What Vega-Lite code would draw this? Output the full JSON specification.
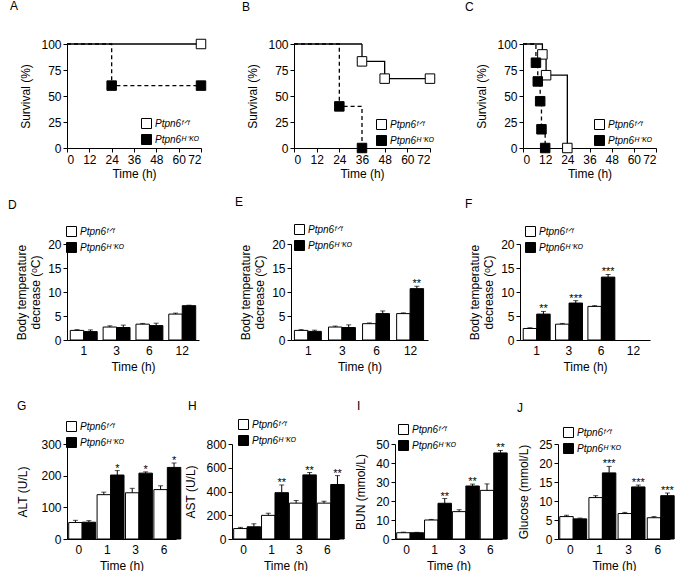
{
  "$schema": "https://vega.github.io/schema/vega-lite/v6.json",
  "background": "white",
  "padding": {"left": 8, "top": 0, "right": 2, "bottom": 0},
  "config": {
    "view": {"stroke": null},
    "font": "Liberation Sans",
    "axis": {"grid": false, "domainColor": "black", "tickColor": "black", "labelColor": "black", "titleColor": "black", "labelFont": "Liberation Sans", "titleFont": "Liberation Sans", "labelFontSize": 12, "titleFontSize": 12, "titleFontWeight": "normal", "tickSize": 4, "labelPadding": 2, "titlePadding": 5, "domainWidth": 1, "tickWidth": 1},
    "axisY": {"titlePadding": 8},
    "title": {"font": "Liberation Sans", "fontSize": 12, "fontWeight": "normal", "color": "black", "anchor": "start", "frame": "group"},
    "legend": {"title": null, "symbolType": "square", "symbolSize": 100, "symbolStrokeColor": "black", "symbolStrokeWidth": 1, "labelFont": "Liberation Sans", "labelFontSize": 10, "labelFontStyle": "italic", "labelColor": "black", "labelOffset": 3, "rowPadding": 1, "padding": 0}
  },
  "vconcat": [
    {
      "hconcat": [
        {
          "width": 134, "height": 104,
          "title": {"text": "A", "dx": -57, "offset": 24},
          "layer": [
            {"data": {"name": "A_l"}, "mark": {"type": "line", "interpolate": "step-after", "color": "black", "strokeWidth": 1.3},
             "encoding": {
               "x": {"field": "t", "type": "quantitative", "scale": {"domain": [0, 72], "nice": false}, "axis": {"values": [0, 12, 24, 36, 48, 60, 72], "title": "Time (h)", "titlePadding": 3}},
               "y": {"field": "s", "type": "quantitative", "scale": {"domain": [0, 100], "nice": false}, "axis": {"values": [0, 25, 50, 75, 100], "title": "Survival (%)"}},
               "strokeDash": {"field": "d", "type": "nominal", "scale": {"domain": ["solid", "dash"], "range": [[1, 0], [4, 3]]}, "legend": null}}},
            {"data": {"name": "A_p"}, "mark": {"type": "point", "shape": "square", "filled": true, "stroke": "black", "strokeWidth": 1, "size": 90, "opacity": 1},
             "encoding": {
               "x": {"field": "t", "type": "quantitative", "scale": {"domain": [0, 72], "nice": false}, "axis": {"values": [0, 12, 24, 36, 48, 60, 72], "title": "Time (h)", "titlePadding": 3}},
               "y": {"field": "s", "type": "quantitative", "scale": {"domain": [0, 100], "nice": false}, "axis": {"values": [0, 25, 50, 75, 100], "title": "Survival (%)"}},
               "fill": {"field": "g", "type": "nominal", "scale": {"domain": ["Ptpn6ᶠᐟᶠ", "Ptpn6ᴴ⁻ᴷᴼ"], "range": ["white", "black"]}, "legend": {"orient": "none", "legendX": 74, "legendY": 74}}}}
          ]
        },
        {
          "width": 136, "height": 104,
          "title": {"text": "B", "dx": -52, "offset": 24},
          "layer": [
            {"data": {"name": "B_l"}, "mark": {"type": "line", "interpolate": "step-after", "color": "black", "strokeWidth": 1.3},
             "encoding": {
               "x": {"field": "t", "type": "quantitative", "scale": {"domain": [0, 72], "nice": false}, "axis": {"values": [0, 12, 24, 36, 48, 60, 72], "title": "Time (h)", "titlePadding": 3}},
               "y": {"field": "s", "type": "quantitative", "scale": {"domain": [0, 100], "nice": false}, "axis": {"values": [0, 25, 50, 75, 100], "title": "Survival (%)"}},
               "strokeDash": {"field": "d", "type": "nominal", "scale": {"domain": ["solid", "dash"], "range": [[1, 0], [4, 3]]}, "legend": null}}},
            {"data": {"name": "B_p"}, "mark": {"type": "point", "shape": "square", "filled": true, "stroke": "black", "strokeWidth": 1, "size": 90, "opacity": 1},
             "encoding": {
               "x": {"field": "t", "type": "quantitative", "scale": {"domain": [0, 72], "nice": false}, "axis": {"values": [0, 12, 24, 36, 48, 60, 72], "title": "Time (h)", "titlePadding": 3}},
               "y": {"field": "s", "type": "quantitative", "scale": {"domain": [0, 100], "nice": false}, "axis": {"values": [0, 25, 50, 75, 100], "title": "Survival (%)"}},
               "fill": {"field": "g", "type": "nominal", "scale": {"domain": ["Ptpn6ᶠᐟᶠ", "Ptpn6ᴴ⁻ᴷᴼ"], "range": ["white", "black"]}, "legend": {"orient": "none", "legendX": 82, "legendY": 75}}}}
          ]
        },
        {
          "width": 133, "height": 104,
          "title": {"text": "C", "dx": -58, "offset": 24},
          "layer": [
            {"data": {"name": "C_l"}, "mark": {"type": "line", "interpolate": "step-after", "color": "black", "strokeWidth": 1.3},
             "encoding": {
               "x": {"field": "t", "type": "quantitative", "scale": {"domain": [0, 72], "nice": false}, "axis": {"values": [0, 12, 24, 36, 48, 60, 72], "title": "Time (h)", "titlePadding": 3}},
               "y": {"field": "s", "type": "quantitative", "scale": {"domain": [0, 100], "nice": false}, "axis": {"values": [0, 25, 50, 75, 100], "title": "Survival (%)"}},
               "strokeDash": {"field": "d", "type": "nominal", "scale": {"domain": ["solid", "dash"], "range": [[1, 0], [4, 3]]}, "legend": null}}},
            {"data": {"name": "C_p"}, "mark": {"type": "point", "shape": "square", "filled": true, "stroke": "black", "strokeWidth": 1, "size": 90, "opacity": 1},
             "encoding": {
               "x": {"field": "t", "type": "quantitative", "scale": {"domain": [0, 72], "nice": false}, "axis": {"values": [0, 12, 24, 36, 48, 60, 72], "title": "Time (h)", "titlePadding": 3}},
               "y": {"field": "s", "type": "quantitative", "scale": {"domain": [0, 100], "nice": false}, "axis": {"values": [0, 25, 50, 75, 100], "title": "Survival (%)"}},
               "fill": {"field": "g", "type": "nominal", "scale": {"domain": ["Ptpn6ᶠᐟᶠ", "Ptpn6ᴴ⁻ᴷᴼ"], "range": ["white", "black"]}, "legend": {"orient": "none", "legendX": 71, "legendY": 75}}}}
          ]
        }
      ],
      "spacing": 93,
      "bounds": "flush",
      "resolve": {"scale": {"fill": "independent", "strokeDash": "independent"}, "legend": {"fill": "independent", "strokeDash": "independent"}}
    },
    {
      "hconcat": [
        {
          "width": 132, "height": 96,
          "title": {"text": "D", "dx": -59, "offset": 14},
          "data": {"name": "D"},
          "encoding": {
            "x": {"field": "time", "type": "nominal", "sort": null, "scale": {"domain": ["1", "3", "6", "12"], "paddingInner": 0.18, "paddingOuter": 0.1}, "axis": {"title": "Time (h)", "labelAngle": 0, "ticks": false, "labelPadding": 5}},
            "xOffset": {"field": "g", "type": "nominal", "scale": {"domain": ["Ptpn6ᶠᐟᶠ", "Ptpn6ᴴ⁻ᴷᴼ"], "paddingInner": 0, "paddingOuter": 0}}
          },
          "layer": [
            {"mark": {"type": "bar", "stroke": "black", "strokeWidth": 1},
             "encoding": {"y": {"field": "v", "type": "quantitative", "scale": {"domain": [0, 20], "nice": false}, "axis": {"values": [0, 5, 10, 15, 20], "title": ["Body temperature", "decrease (ᵒC)"], "titlePadding": 5}},
               "fill": {"field": "g", "type": "nominal", "scale": {"domain": ["Ptpn6ᶠᐟᶠ", "Ptpn6ᴴ⁻ᴷᴼ"], "range": ["white", "black"]}, "legend": {"orient": "none", "legendX": -1, "legendY": -18}}}},
            {"mark": {"type": "rule", "color": "black", "strokeWidth": 1},
             "encoding": {"y": {"field": "v", "type": "quantitative", "scale": {"domain": [0, 20], "nice": false}, "axis": {"values": [0, 5, 10, 15, 20], "title": ["Body temperature", "decrease (ᵒC)"], "titlePadding": 5}}, "y2": {"field": "hi"}}},
            {"mark": {"type": "tick", "color": "black", "thickness": 1, "size": 5},
             "encoding": {"y": {"field": "hi", "type": "quantitative", "scale": {"domain": [0, 20], "nice": false}, "axis": {"values": [0, 5, 10, 15, 20], "title": ["Body temperature", "decrease (ᵒC)"], "titlePadding": 5}}}},
            {"mark": {"type": "text", "baseline": "alphabetic", "dy": 1, "fontSize": 11, "fill": "black"},
             "encoding": {"y": {"field": "hi", "type": "quantitative", "scale": {"domain": [0, 20], "nice": false}, "axis": {"values": [0, 5, 10, 15, 20], "title": ["Body temperature", "decrease (ᵒC)"], "titlePadding": 5}}, "text": {"field": "star"}}}
          ]
        },
        {
          "width": 137, "height": 96,
          "title": {"text": "E", "dx": -56, "offset": 15},
          "data": {"name": "E"},
          "encoding": {
            "x": {"field": "time", "type": "nominal", "sort": null, "scale": {"domain": ["1", "3", "6", "12"], "paddingInner": 0.18, "paddingOuter": 0.1}, "axis": {"title": "Time (h)", "labelAngle": 0, "ticks": false, "labelPadding": 5}},
            "xOffset": {"field": "g", "type": "nominal", "scale": {"domain": ["Ptpn6ᶠᐟᶠ", "Ptpn6ᴴ⁻ᴷᴼ"], "paddingInner": 0, "paddingOuter": 0}}
          },
          "layer": [
            {"mark": {"type": "bar", "stroke": "black", "strokeWidth": 1},
             "encoding": {"y": {"field": "v", "type": "quantitative", "scale": {"domain": [0, 20], "nice": false}, "axis": {"values": [0, 5, 10, 15, 20], "title": ["Body temperature", "decrease (ᵒC)"], "titlePadding": 5}},
               "fill": {"field": "g", "type": "nominal", "scale": {"domain": ["Ptpn6ᶠᐟᶠ", "Ptpn6ᴴ⁻ᴷᴼ"], "range": ["white", "black"]}, "legend": {"orient": "none", "legendX": 3, "legendY": -20}}}},
            {"mark": {"type": "rule", "color": "black", "strokeWidth": 1},
             "encoding": {"y": {"field": "v", "type": "quantitative", "scale": {"domain": [0, 20], "nice": false}, "axis": {"values": [0, 5, 10, 15, 20], "title": ["Body temperature", "decrease (ᵒC)"], "titlePadding": 5}}, "y2": {"field": "hi"}}},
            {"mark": {"type": "tick", "color": "black", "thickness": 1, "size": 5},
             "encoding": {"y": {"field": "hi", "type": "quantitative", "scale": {"domain": [0, 20], "nice": false}, "axis": {"values": [0, 5, 10, 15, 20], "title": ["Body temperature", "decrease (ᵒC)"], "titlePadding": 5}}}},
            {"mark": {"type": "text", "baseline": "alphabetic", "dy": 1, "fontSize": 11, "fill": "black"},
             "encoding": {"y": {"field": "hi", "type": "quantitative", "scale": {"domain": [0, 20], "nice": false}, "axis": {"values": [0, 5, 10, 15, 20], "title": ["Body temperature", "decrease (ᵒC)"], "titlePadding": 5}}, "text": {"field": "star"}}}
          ]
        },
        {
          "width": 130, "height": 96,
          "title": {"text": "F", "dx": -55, "offset": 15},
          "data": {"name": "F"},
          "encoding": {
            "x": {"field": "time", "type": "nominal", "sort": null, "scale": {"domain": ["1", "3", "6", "12"], "paddingInner": 0.18, "paddingOuter": 0.1}, "axis": {"title": "Time (h)", "labelAngle": 0, "ticks": false, "labelPadding": 5}},
            "xOffset": {"field": "g", "type": "nominal", "scale": {"domain": ["Ptpn6ᶠᐟᶠ", "Ptpn6ᴴ⁻ᴷᴼ"], "paddingInner": 0, "paddingOuter": 0}}
          },
          "layer": [
            {"mark": {"type": "bar", "stroke": "black", "strokeWidth": 1},
             "encoding": {"y": {"field": "v", "type": "quantitative", "scale": {"domain": [0, 20], "nice": false}, "axis": {"values": [0, 5, 10, 15, 20], "title": ["Body temperature", "decrease (ᵒC)"], "titlePadding": 5}},
               "fill": {"field": "g", "type": "nominal", "scale": {"domain": ["Ptpn6ᶠᐟᶠ", "Ptpn6ᴴ⁻ᴷᴼ"], "range": ["white", "black"]}, "legend": {"orient": "none", "legendX": 5, "legendY": -18}}}},
            {"mark": {"type": "rule", "color": "black", "strokeWidth": 1},
             "encoding": {"y": {"field": "v", "type": "quantitative", "scale": {"domain": [0, 20], "nice": false}, "axis": {"values": [0, 5, 10, 15, 20], "title": ["Body temperature", "decrease (ᵒC)"], "titlePadding": 5}}, "y2": {"field": "hi"}}},
            {"mark": {"type": "tick", "color": "black", "thickness": 1, "size": 5},
             "encoding": {"y": {"field": "hi", "type": "quantitative", "scale": {"domain": [0, 20], "nice": false}, "axis": {"values": [0, 5, 10, 15, 20], "title": ["Body temperature", "decrease (ᵒC)"], "titlePadding": 5}}}},
            {"mark": {"type": "text", "baseline": "alphabetic", "dy": 1, "fontSize": 11, "fill": "black"},
             "encoding": {"y": {"field": "hi", "type": "quantitative", "scale": {"domain": [0, 20], "nice": false}, "axis": {"values": [0, 5, 10, 15, 20], "title": ["Body temperature", "decrease (ᵒC)"], "titlePadding": 5}}, "text": {"field": "star"}}}
          ]
        }
      ],
      "spacing": 92,
      "bounds": "flush",
      "resolve": {"scale": {"fill": "independent"}, "legend": {"fill": "independent"}}
    },
    {
      "hconcat": [
        {
          "width": 109, "height": 95,
          "title": {"text": "G", "dx": -50, "offset": 8},
          "data": {"name": "G"},
          "encoding": {
            "x": {"field": "time", "type": "nominal", "sort": null, "scale": {"domain": ["0", "1", "3", "6"], "paddingInner": 0.28, "paddingOuter": 0.06}, "axis": {"title": "Time (h)", "labelAngle": 0, "ticks": false, "labelPadding": 5}},
            "xOffset": {"field": "g", "type": "nominal", "scale": {"domain": ["Ptpn6ᶠᐟᶠ", "Ptpn6ᴴ⁻ᴷᴼ"], "paddingInner": 0, "paddingOuter": 0}}
          },
          "layer": [
            {"mark": {"type": "bar", "stroke": "black", "strokeWidth": 1},
             "encoding": {"y": {"field": "v", "type": "quantitative", "scale": {"domain": [0, 300], "nice": false}, "axis": {"values": [0, 100, 200, 300], "title": "ALT (U/L)", "titlePadding": 11}},
               "fill": {"field": "g", "type": "nominal", "scale": {"domain": ["Ptpn6ᶠᐟᶠ", "Ptpn6ᴴ⁻ᴷᴼ"], "range": ["white", "black"]}, "legend": {"orient": "none", "legendX": -1, "legendY": -23}}}},
            {"mark": {"type": "rule", "color": "black", "strokeWidth": 1},
             "encoding": {"y": {"field": "v", "type": "quantitative", "scale": {"domain": [0, 300], "nice": false}, "axis": {"values": [0, 100, 200, 300], "title": "ALT (U/L)", "titlePadding": 11}}, "y2": {"field": "hi"}}},
            {"mark": {"type": "tick", "color": "black", "thickness": 1, "size": 5},
             "encoding": {"y": {"field": "hi", "type": "quantitative", "scale": {"domain": [0, 300], "nice": false}, "axis": {"values": [0, 100, 200, 300], "title": "ALT (U/L)", "titlePadding": 11}}}},
            {"mark": {"type": "text", "baseline": "alphabetic", "dy": 1, "fontSize": 11, "fill": "black"},
             "encoding": {"y": {"field": "hi", "type": "quantitative", "scale": {"domain": [0, 300], "nice": false}, "axis": {"values": [0, 100, 200, 300], "title": "ALT (U/L)", "titlePadding": 11}}, "text": {"field": "star"}}}
          ]
        },
        {
          "width": 107, "height": 95,
          "title": {"text": "H", "dx": -44, "offset": 6},
          "data": {"name": "H"},
          "encoding": {
            "x": {"field": "time", "type": "nominal", "sort": null, "scale": {"domain": ["0", "1", "3", "6"], "paddingInner": 0.28, "paddingOuter": 0.06}, "axis": {"title": "Time (h)", "labelAngle": 0, "ticks": false, "labelPadding": 5}},
            "xOffset": {"field": "g", "type": "nominal", "scale": {"domain": ["Ptpn6ᶠᐟᶠ", "Ptpn6ᴴ⁻ᴷᴼ"], "paddingInner": 0, "paddingOuter": 0}}
          },
          "layer": [
            {"mark": {"type": "bar", "stroke": "black", "strokeWidth": 1},
             "encoding": {"y": {"field": "v", "type": "quantitative", "scale": {"domain": [0, 800], "nice": false}, "axis": {"values": [0, 200, 400, 600, 800], "title": "AST (U/L)"}},
               "fill": {"field": "g", "type": "nominal", "scale": {"domain": ["Ptpn6ᶠᐟᶠ", "Ptpn6ᴴ⁻ᴷᴼ"], "range": ["white", "black"]}, "legend": {"orient": "none", "legendX": 6, "legendY": -25}}}},
            {"mark": {"type": "rule", "color": "black", "strokeWidth": 1},
             "encoding": {"y": {"field": "v", "type": "quantitative", "scale": {"domain": [0, 800], "nice": false}, "axis": {"values": [0, 200, 400, 600, 800], "title": "AST (U/L)"}}, "y2": {"field": "hi"}}},
            {"mark": {"type": "tick", "color": "black", "thickness": 1, "size": 5},
             "encoding": {"y": {"field": "hi", "type": "quantitative", "scale": {"domain": [0, 800], "nice": false}, "axis": {"values": [0, 200, 400, 600, 800], "title": "AST (U/L)"}}}},
            {"mark": {"type": "text", "baseline": "alphabetic", "dy": 1, "fontSize": 11, "fill": "black"},
             "encoding": {"y": {"field": "hi", "type": "quantitative", "scale": {"domain": [0, 800], "nice": false}, "axis": {"values": [0, 200, 400, 600, 800], "title": "AST (U/L)"}}, "text": {"field": "star"}}}
          ]
        },
        {
          "width": 107, "height": 95,
          "title": {"text": "I", "dx": -38, "offset": 11},
          "data": {"name": "I"},
          "encoding": {
            "x": {"field": "time", "type": "nominal", "sort": null, "scale": {"domain": ["0", "1", "3", "6"], "paddingInner": 0.28, "paddingOuter": 0.06}, "axis": {"title": "Time (h)", "labelAngle": 0, "ticks": false, "labelPadding": 5}},
            "xOffset": {"field": "g", "type": "nominal", "scale": {"domain": ["Ptpn6ᶠᐟᶠ", "Ptpn6ᴴ⁻ᴷᴼ"], "paddingInner": 0, "paddingOuter": 0}}
          },
          "layer": [
            {"mark": {"type": "bar", "stroke": "black", "strokeWidth": 1},
             "encoding": {"y": {"field": "v", "type": "quantitative", "scale": {"domain": [0, 50], "nice": false}, "axis": {"values": [0, 10, 20, 30, 40, 50], "title": "BUN (mmol/L)"}},
               "fill": {"field": "g", "type": "nominal", "scale": {"domain": ["Ptpn6ᶠᐟᶠ", "Ptpn6ᴴ⁻ᴷᴼ"], "range": ["white", "black"]}, "legend": {"orient": "none", "legendX": 3, "legendY": -20}}}},
            {"mark": {"type": "rule", "color": "black", "strokeWidth": 1},
             "encoding": {"y": {"field": "v", "type": "quantitative", "scale": {"domain": [0, 50], "nice": false}, "axis": {"values": [0, 10, 20, 30, 40, 50], "title": "BUN (mmol/L)"}}, "y2": {"field": "hi"}}},
            {"mark": {"type": "tick", "color": "black", "thickness": 1, "size": 5},
             "encoding": {"y": {"field": "hi", "type": "quantitative", "scale": {"domain": [0, 50], "nice": false}, "axis": {"values": [0, 10, 20, 30, 40, 50], "title": "BUN (mmol/L)"}}}},
            {"mark": {"type": "text", "baseline": "alphabetic", "dy": 1, "fontSize": 11, "fill": "black"},
             "encoding": {"y": {"field": "hi", "type": "quantitative", "scale": {"domain": [0, 50], "nice": false}, "axis": {"values": [0, 10, 20, 30, 40, 50], "title": "BUN (mmol/L)"}}, "text": {"field": "star"}}}
          ]
        },
        {
          "width": 112, "height": 95,
          "title": {"text": "J", "dx": -41, "offset": 12},
          "data": {"name": "J"},
          "encoding": {
            "x": {"field": "time", "type": "nominal", "sort": null, "scale": {"domain": ["0", "1", "3", "6"], "paddingInner": 0.28, "paddingOuter": 0.06}, "axis": {"title": "Time (h)", "labelAngle": 0, "ticks": false, "labelPadding": 5}},
            "xOffset": {"field": "g", "type": "nominal", "scale": {"domain": ["Ptpn6ᶠᐟᶠ", "Ptpn6ᴴ⁻ᴷᴼ"], "paddingInner": 0, "paddingOuter": 0}}
          },
          "layer": [
            {"mark": {"type": "bar", "stroke": "black", "strokeWidth": 1},
             "encoding": {"y": {"field": "v", "type": "quantitative", "scale": {"domain": [0, 25], "nice": false}, "axis": {"values": [0, 5, 10, 15, 20, 25], "title": "Glucose (mmol/L)"}},
               "fill": {"field": "g", "type": "nominal", "scale": {"domain": ["Ptpn6ᶠᐟᶠ", "Ptpn6ᴴ⁻ᴷᴼ"], "range": ["white", "black"]}, "legend": {"orient": "none", "legendX": 5, "legendY": -17}}}},
            {"mark": {"type": "rule", "color": "black", "strokeWidth": 1},
             "encoding": {"y": {"field": "v", "type": "quantitative", "scale": {"domain": [0, 25], "nice": false}, "axis": {"values": [0, 5, 10, 15, 20, 25], "title": "Glucose (mmol/L)"}}, "y2": {"field": "hi"}}},
            {"mark": {"type": "tick", "color": "black", "thickness": 1, "size": 5},
             "encoding": {"y": {"field": "hi", "type": "quantitative", "scale": {"domain": [0, 25], "nice": false}, "axis": {"values": [0, 5, 10, 15, 20, 25], "title": "Glucose (mmol/L)"}}}},
            {"mark": {"type": "text", "baseline": "alphabetic", "dy": 1, "fontSize": 11, "fill": "black"},
             "encoding": {"y": {"field": "hi", "type": "quantitative", "scale": {"domain": [0, 25], "nice": false}, "axis": {"values": [0, 5, 10, 15, 20, 25], "title": "Glucose (mmol/L)"}}, "text": {"field": "star"}}}
          ]
        }
      ],
      "spacing": 56,
      "bounds": "flush",
      "resolve": {"scale": {"fill": "independent"}, "legend": {"fill": "independent"}}
    }
  ],
  "spacing": 200,
  "bounds": "flush",
  "resolve": {"scale": {"fill": "independent", "strokeDash": "independent"}, "legend": {"fill": "independent", "strokeDash": "independent"}},
  "datasets": {
    "A_l": [
      {"t": 0, "s": 100, "g": "Ptpn6ᶠᐟᶠ", "d": "solid"}, {"t": 72, "s": 100, "g": "Ptpn6ᶠᐟᶠ", "d": "solid"},
      {"t": 0, "s": 100, "g": "Ptpn6ᴴ⁻ᴷᴼ", "d": "dash"}, {"t": 24, "s": 60, "g": "Ptpn6ᴴ⁻ᴷᴼ", "d": "dash"}, {"t": 72, "s": 60, "g": "Ptpn6ᴴ⁻ᴷᴼ", "d": "dash"}
    ],
    "A_p": [
      {"t": 72, "s": 100, "g": "Ptpn6ᶠᐟᶠ"}, {"t": 24, "s": 60, "g": "Ptpn6ᴴ⁻ᴷᴼ"}, {"t": 72, "s": 60, "g": "Ptpn6ᴴ⁻ᴷᴼ"}
    ],
    "B_l": [
      {"t": 0, "s": 100, "g": "Ptpn6ᶠᐟᶠ", "d": "solid"}, {"t": 36, "s": 83.3, "g": "Ptpn6ᶠᐟᶠ", "d": "solid"}, {"t": 48, "s": 66.7, "g": "Ptpn6ᶠᐟᶠ", "d": "solid"}, {"t": 72, "s": 66.7, "g": "Ptpn6ᶠᐟᶠ", "d": "solid"},
      {"t": 0, "s": 100, "g": "Ptpn6ᴴ⁻ᴷᴼ", "d": "dash"}, {"t": 24, "s": 40, "g": "Ptpn6ᴴ⁻ᴷᴼ", "d": "dash"}, {"t": 36, "s": 0, "g": "Ptpn6ᴴ⁻ᴷᴼ", "d": "dash"}
    ],
    "B_p": [
      {"t": 36, "s": 83.3, "g": "Ptpn6ᶠᐟᶠ"}, {"t": 48, "s": 66.7, "g": "Ptpn6ᶠᐟᶠ"}, {"t": 72, "s": 66.7, "g": "Ptpn6ᶠᐟᶠ"},
      {"t": 24, "s": 40, "g": "Ptpn6ᴴ⁻ᴷᴼ"}, {"t": 36, "s": 0, "g": "Ptpn6ᴴ⁻ᴷᴼ"}
    ],
    "C_l": [
      {"t": 0, "s": 100, "g": "Ptpn6ᶠᐟᶠ", "d": "solid"}, {"t": 10.5, "s": 90, "g": "Ptpn6ᶠᐟᶠ", "d": "solid"}, {"t": 12.5, "s": 70, "g": "Ptpn6ᶠᐟᶠ", "d": "solid"}, {"t": 24, "s": 0, "g": "Ptpn6ᶠᐟᶠ", "d": "solid"},
      {"t": 0, "s": 100, "g": "Ptpn6ᴴ⁻ᴷᴼ", "d": "dash"}, {"t": 7, "s": 82, "g": "Ptpn6ᴴ⁻ᴷᴼ", "d": "dash"}, {"t": 8, "s": 64, "g": "Ptpn6ᴴ⁻ᴷᴼ", "d": "dash"}, {"t": 9.3, "s": 45, "g": "Ptpn6ᴴ⁻ᴷᴼ", "d": "dash"}, {"t": 10, "s": 18, "g": "Ptpn6ᴴ⁻ᴷᴼ", "d": "dash"}, {"t": 12, "s": 0, "g": "Ptpn6ᴴ⁻ᴷᴼ", "d": "dash"}
    ],
    "C_p": [
      {"t": 10.5, "s": 90, "g": "Ptpn6ᶠᐟᶠ"}, {"t": 12.5, "s": 70, "g": "Ptpn6ᶠᐟᶠ"}, {"t": 24, "s": 0, "g": "Ptpn6ᶠᐟᶠ"},
      {"t": 7, "s": 82, "g": "Ptpn6ᴴ⁻ᴷᴼ"}, {"t": 8, "s": 64, "g": "Ptpn6ᴴ⁻ᴷᴼ"}, {"t": 9.3, "s": 45, "g": "Ptpn6ᴴ⁻ᴷᴼ"}, {"t": 10, "s": 18, "g": "Ptpn6ᴴ⁻ᴷᴼ"}, {"t": 12, "s": 0, "g": "Ptpn6ᴴ⁻ᴷᴼ"}
    ],
    "D": [
      {"time": "1", "g": "Ptpn6ᶠᐟᶠ", "v": 2.0, "hi": 2.15, "star": ""},
      {"time": "3", "g": "Ptpn6ᶠᐟᶠ", "v": 2.7, "hi": 2.95, "star": ""},
      {"time": "6", "g": "Ptpn6ᶠᐟᶠ", "v": 3.3, "hi": 3.45, "star": ""},
      {"time": "12", "g": "Ptpn6ᶠᐟᶠ", "v": 5.4, "hi": 5.6, "star": ""},
      {"time": "1", "g": "Ptpn6ᴴ⁻ᴷᴼ", "v": 1.75, "hi": 2.1, "star": ""},
      {"time": "3", "g": "Ptpn6ᴴ⁻ᴷᴼ", "v": 2.6, "hi": 3.1, "star": ""},
      {"time": "6", "g": "Ptpn6ᴴ⁻ᴷᴼ", "v": 3.0, "hi": 3.5, "star": ""},
      {"time": "12", "g": "Ptpn6ᴴ⁻ᴷᴼ", "v": 7.15, "hi": 7.25, "star": ""}
    ],
    "E": [
      {"time": "1", "g": "Ptpn6ᶠᐟᶠ", "v": 2.0, "hi": 2.15, "star": ""},
      {"time": "3", "g": "Ptpn6ᶠᐟᶠ", "v": 2.7, "hi": 2.9, "star": ""},
      {"time": "6", "g": "Ptpn6ᶠᐟᶠ", "v": 3.4, "hi": 3.55, "star": ""},
      {"time": "12", "g": "Ptpn6ᶠᐟᶠ", "v": 5.5, "hi": 5.65, "star": ""},
      {"time": "1", "g": "Ptpn6ᴴ⁻ᴷᴼ", "v": 1.8, "hi": 2.05, "star": ""},
      {"time": "3", "g": "Ptpn6ᴴ⁻ᴷᴼ", "v": 2.6, "hi": 3.15, "star": ""},
      {"time": "6", "g": "Ptpn6ᴴ⁻ᴷᴼ", "v": 5.5, "hi": 6.05, "star": ""},
      {"time": "12", "g": "Ptpn6ᴴ⁻ᴷᴼ", "v": 10.7, "hi": 11.2, "star": "**"}
    ],
    "F": [
      {"time": "1", "g": "Ptpn6ᶠᐟᶠ", "v": 2.4, "hi": 2.55, "star": ""},
      {"time": "3", "g": "Ptpn6ᶠᐟᶠ", "v": 3.3, "hi": 3.45, "star": ""},
      {"time": "6", "g": "Ptpn6ᶠᐟᶠ", "v": 7.0, "hi": 7.15, "star": ""},
      {"time": "1", "g": "Ptpn6ᴴ⁻ᴷᴼ", "v": 5.4, "hi": 5.95, "star": "**"},
      {"time": "3", "g": "Ptpn6ᴴ⁻ᴷᴼ", "v": 7.7, "hi": 8.2, "star": "***"},
      {"time": "6", "g": "Ptpn6ᴴ⁻ᴷᴼ", "v": 13.1, "hi": 13.65, "star": "***"}
    ],
    "G": [
      {"time": "0", "g": "Ptpn6ᶠᐟᶠ", "v": 52, "hi": 59, "star": ""},
      {"time": "1", "g": "Ptpn6ᶠᐟᶠ", "v": 140, "hi": 148, "star": ""},
      {"time": "3", "g": "Ptpn6ᶠᐟᶠ", "v": 146, "hi": 160, "star": ""},
      {"time": "6", "g": "Ptpn6ᶠᐟᶠ", "v": 156, "hi": 168, "star": ""},
      {"time": "0", "g": "Ptpn6ᴴ⁻ᴷᴼ", "v": 53, "hi": 58, "star": ""},
      {"time": "1", "g": "Ptpn6ᴴ⁻ᴷᴼ", "v": 202, "hi": 216, "star": "*"},
      {"time": "3", "g": "Ptpn6ᴴ⁻ᴷᴼ", "v": 208, "hi": 212, "star": "*"},
      {"time": "6", "g": "Ptpn6ᴴ⁻ᴷᴼ", "v": 226, "hi": 240, "star": "*"}
    ],
    "H": [
      {"time": "0", "g": "Ptpn6ᶠᐟᶠ", "v": 88, "hi": 98, "star": ""},
      {"time": "1", "g": "Ptpn6ᶠᐟᶠ", "v": 199, "hi": 217, "star": ""},
      {"time": "3", "g": "Ptpn6ᶠᐟᶠ", "v": 302, "hi": 324, "star": ""},
      {"time": "6", "g": "Ptpn6ᶠᐟᶠ", "v": 302, "hi": 318, "star": ""},
      {"time": "0", "g": "Ptpn6ᴴ⁻ᴷᴼ", "v": 103, "hi": 128, "star": ""},
      {"time": "1", "g": "Ptpn6ᴴ⁻ᴷᴼ", "v": 390, "hi": 455, "star": "**"},
      {"time": "3", "g": "Ptpn6ᴴ⁻ᴷᴼ", "v": 540, "hi": 560, "star": "**"},
      {"time": "6", "g": "Ptpn6ᴴ⁻ᴷᴼ", "v": 459, "hi": 534, "star": "**"}
    ],
    "I": [
      {"time": "0", "g": "Ptpn6ᶠᐟᶠ", "v": 3.3, "hi": 3.6, "star": ""},
      {"time": "1", "g": "Ptpn6ᶠᐟᶠ", "v": 10.0, "hi": 10.3, "star": ""},
      {"time": "3", "g": "Ptpn6ᶠᐟᶠ", "v": 14.4, "hi": 15.4, "star": ""},
      {"time": "6", "g": "Ptpn6ᶠᐟᶠ", "v": 25.6, "hi": 29.0, "star": ""},
      {"time": "0", "g": "Ptpn6ᴴ⁻ᴷᴼ", "v": 3.3, "hi": 3.5, "star": ""},
      {"time": "1", "g": "Ptpn6ᴴ⁻ᴷᴼ", "v": 18.8, "hi": 21.3, "star": "**"},
      {"time": "3", "g": "Ptpn6ᴴ⁻ᴷᴼ", "v": 27.9, "hi": 28.9, "star": "**"},
      {"time": "6", "g": "Ptpn6ᴴ⁻ᴷᴼ", "v": 45.3, "hi": 46.6, "star": "**"}
    ],
    "J": [
      {"time": "0", "g": "Ptpn6ᶠᐟᶠ", "v": 5.9, "hi": 6.25, "star": ""},
      {"time": "1", "g": "Ptpn6ᶠᐟᶠ", "v": 10.9, "hi": 11.4, "star": ""},
      {"time": "3", "g": "Ptpn6ᶠᐟᶠ", "v": 6.7, "hi": 7.0, "star": ""},
      {"time": "6", "g": "Ptpn6ᶠᐟᶠ", "v": 5.6, "hi": 5.9, "star": ""},
      {"time": "0", "g": "Ptpn6ᴴ⁻ᴷᴼ", "v": 5.3, "hi": 5.5, "star": ""},
      {"time": "1", "g": "Ptpn6ᴴ⁻ᴷᴼ", "v": 17.4, "hi": 19.1, "star": "***"},
      {"time": "3", "g": "Ptpn6ᴴ⁻ᴷᴼ", "v": 13.7, "hi": 14.2, "star": "***"},
      {"time": "6", "g": "Ptpn6ᴴ⁻ᴷᴼ", "v": 11.4, "hi": 12.1, "star": "***"}
    ]
  }
}
